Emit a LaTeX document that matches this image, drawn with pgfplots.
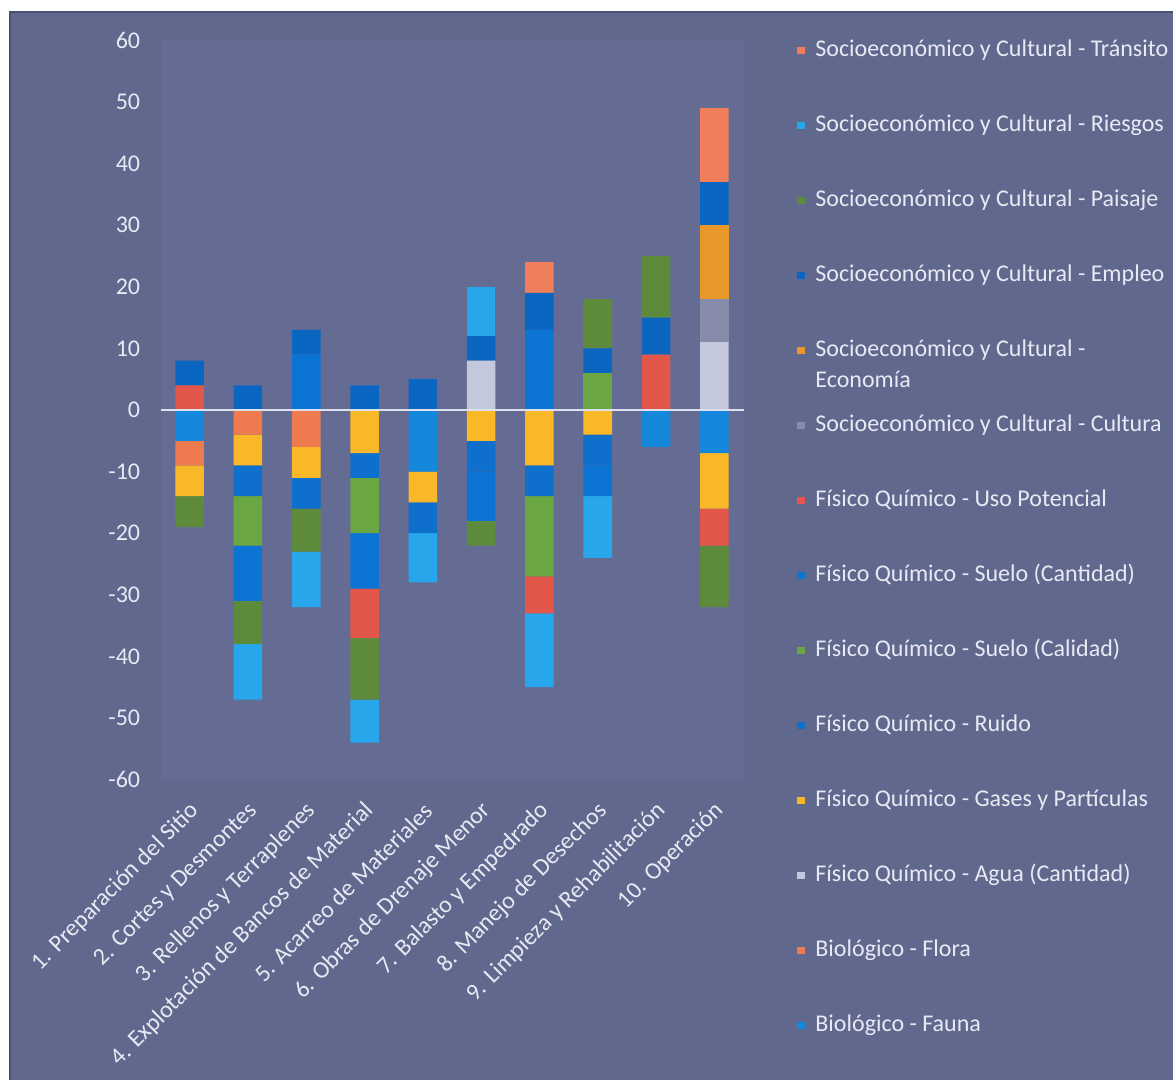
\documentclass[border=0pt]{standalone}
\usepackage{fontspec}
\setmainfont{Carlito}
\usepackage{pgfplots}
\usepackage{pgfplotstable}
\pgfplotsset{compat=1.18}

\definecolor{chartbg}{HTML}{61688E}
\definecolor{plotbg}{HTML}{656C93}
\definecolor{chartborder}{HTML}{4A5170}
\definecolor{labelcol}{HTML}{E8EAF3}
\definecolor{zeroline}{HTML}{DDE0EE}
\definecolor{cFa}{HTML}{1688DC}
\definecolor{cFl}{HTML}{EE7A50}
\definecolor{cAg}{HTML}{C4C8DC}
\definecolor{cGa}{HTML}{F8B828}
\definecolor{cRu}{HTML}{0E6FCC}
\definecolor{cSCal}{HTML}{6AA642}
\definecolor{cSCan}{HTML}{0C74D4}
\definecolor{cUso}{HTML}{E2574A}
\definecolor{cCu}{HTML}{868CAA}
\definecolor{cEc}{HTML}{E8982A}
\definecolor{cEm}{HTML}{0A66C0}
\definecolor{cPa}{HTML}{5E8A3C}
\definecolor{cRi}{HTML}{28A6EC}
\definecolor{cTr}{HTML}{F07E5A}

% negative parts (stacked downward from zero)
\pgfplotstableread{
x  Fa  Fl  Ag  Ga  Ru  SCal SCan Uso Cu  Ec  Em  Pa  Ri  Tr
1  -5  -4  0   -5  0   0    0    0   0   0   0   -5  0   0
2  0   -4  0   -5  -5  -8   -9   0   0   0   0   -7  -9  0
3  0   -6  0   -5  -5  0    0    0   0   0   0   -7  -9  0
4  0   0   0   -7  -4  -9   -9   -8  0   0   0   -10 -7  0
5  -10 0   0   -5  -5  0    0    0   0   0   0   0   -8  0
6  0   0   0   -5  -5  0    -8   0   0   0   0   -4  0   0
7  0   0   0   -9  -5  -13  0    -6  0   0   0   0   -12 0
8  0   0   0   -4  -5  0    -5   0   0   0   0   0   -10 0
9  -6  0   0   0   0   0    0    0   0   0   0   0   0   0
10 -7  0   0   -9  0   0    0    -6  0   0   0   -10 0   0
}\negdata

% positive parts (stacked upward from zero)
\pgfplotstableread{
x  Fa  Fl  Ag  Ga  Ru  SCal SCan Uso Cu  Ec  Em  Pa  Ri  Tr
1  0   0   0   0   0   0    0    4   0   0   4   0   0   0
2  0   0   0   0   0   0    0    0   0   0   4   0   0   0
3  0   0   0   0   0   0    9    0   0   0   4   0   0   0
4  0   0   0   0   0   0    0    0   0   0   4   0   0   0
5  0   0   0   0   0   0    0    0   0   0   5   0   0   0
6  0   0   8   0   0   0    0    0   0   0   4   0   8   0
7  0   0   0   0   0   0    13   0   0   0   6   0   0   5
8  0   0   0   0   0   6    0    0   0   0   4   8   0   0
9  0   0   0   0   0   0    0    9   0   0   6   10  0   0
10 0   0   11  0   0   0    0    0   7   12  7   0   0   12
}\posdata

\newcommand{\chartfont}{\fontsize{12bp}{15.5bp}\selectfont}

\pgfplotsset{
  common/.style={
    at={(80.25bp,150.2bp)}, anchor=south west,
    scale only axis, width=291.5bp, height=369.6bp,
    xmin=0.5, xmax=10.5, ymin=-60, ymax=60,
    ybar stacked, bar width=0.49,
    axis line style={draw=none},
    major tick length=0pt,
  },
}

\begin{document}
\begin{tikzpicture}
\fill[white] (0,0) rectangle (586.5bp,540bp);
\fill[chartbg] (5bp,0) rectangle (586.5bp,534bp);
\draw[chartborder, line width=0.8bp] (5bp,0) -- (5bp,534bp) -- (586.5bp,534bp);

\begin{axis}[common,
  axis background/.style={fill=plotbg},
  xtick={1,...,10},
  xticklabels={1. Preparación del Sitio, 2. Cortes y Desmontes, 3. Rellenos y Terraplenes, 4. Explotación de Bancos de Material, 5. Acarreo de Materiales, 6. Obras de Drenaje Menor, 7. Balasto y Empedrado, 8. Manejo de Desechos, 9. Limpieza y Rehabilitación, 10. Operación},
  xticklabel style={font=\chartfont, text=labelcol, inner sep=0pt, xshift=3bp, yshift=-13.7bp, rotate=45, anchor=east},
  ytick={-60,-50,...,60},
  yticklabels={-60,-50,-40,-30,-20,-10,0,10,20,30,40,50,60},
  yticklabel style={font=\chartfont, text=labelcol, inner sep=0pt, anchor=east, xshift=-10bp},
  legend image code/.code={\fill[#1] (0bp,-1.8bp) rectangle (3.6bp,1.8bp);},
  reverse legend,
  legend cell align=left,
  legend style={at={(1.0918,1.0033)}, anchor=north west, draw=none, fill=none,
    inner sep=0pt, row sep=25.5bp, font=\chartfont, text=labelcol,
    nodes={inner sep=0pt, text height=9bp, text depth=3bp},
    /tikz/every odd column/.style={column sep=5.4bp}},
]
\addplot[fill=cFa, draw=none] table[x=x, y=Fa]{\negdata}; \addlegendentry{Biológico - Fauna}
\addplot[fill=cFl, draw=none] table[x=x, y=Fl]{\negdata}; \addlegendentry{Biológico - Flora}
\addplot[fill=cAg, draw=none] table[x=x, y=Ag]{\negdata}; \addlegendentry{Físico Químico - Agua (Cantidad)}
\addplot[fill=cGa, draw=none] table[x=x, y=Ga]{\negdata}; \addlegendentry{Físico Químico - Gases y Partículas}
\addplot[fill=cRu, draw=none] table[x=x, y=Ru]{\negdata}; \addlegendentry{Físico Químico - Ruido}
\addplot[fill=cSCal, draw=none] table[x=x, y=SCal]{\negdata}; \addlegendentry{Físico Químico - Suelo (Calidad)}
\addplot[fill=cSCan, draw=none] table[x=x, y=SCan]{\negdata}; \addlegendentry{Físico Químico - Suelo (Cantidad)}
\addplot[fill=cUso, draw=none] table[x=x, y=Uso]{\negdata}; \addlegendentry{Físico Químico - Uso Potencial}
\addplot[fill=cCu, draw=none] table[x=x, y=Cu]{\negdata}; \addlegendentry{Socioeconómico y Cultural - Cultura}
\addplot[fill=cEc, draw=none] table[x=x, y=Ec]{\negdata}; \addlegendentry{\begin{tabular}[t]{@{}l@{}}Socioeconómico y Cultural -\\Economía\end{tabular}}
\addplot[fill=cEm, draw=none] table[x=x, y=Em]{\negdata}; \addlegendentry{Socioeconómico y Cultural - Empleo}
\addplot[fill=cPa, draw=none] table[x=x, y=Pa]{\negdata}; \addlegendentry{Socioeconómico y Cultural - Paisaje}
\addplot[fill=cRi, draw=none] table[x=x, y=Ri]{\negdata}; \addlegendentry{Socioeconómico y Cultural - Riesgos}
\addplot[fill=cTr, draw=none] table[x=x, y=Tr]{\negdata}; \addlegendentry{Socioeconómico y Cultural - Tránsito}
\end{axis}

\begin{axis}[common,
  axis on top,
  xtick=\empty, ytick=\empty,
  extra y ticks={0}, extra y tick labels={},
  extra y tick style={ymajorgrids=true, major grid style={draw=zeroline, line width=1.1bp}},
]
\addplot[fill=cFa, draw=none] table[x=x, y=Fa]{\posdata};
\addplot[fill=cFl, draw=none] table[x=x, y=Fl]{\posdata};
\addplot[fill=cAg, draw=none] table[x=x, y=Ag]{\posdata};
\addplot[fill=cGa, draw=none] table[x=x, y=Ga]{\posdata};
\addplot[fill=cRu, draw=none] table[x=x, y=Ru]{\posdata};
\addplot[fill=cSCal, draw=none] table[x=x, y=SCal]{\posdata};
\addplot[fill=cSCan, draw=none] table[x=x, y=SCan]{\posdata};
\addplot[fill=cUso, draw=none] table[x=x, y=Uso]{\posdata};
\addplot[fill=cCu, draw=none] table[x=x, y=Cu]{\posdata};
\addplot[fill=cEc, draw=none] table[x=x, y=Ec]{\posdata};
\addplot[fill=cEm, draw=none] table[x=x, y=Em]{\posdata};
\addplot[fill=cPa, draw=none] table[x=x, y=Pa]{\posdata};
\addplot[fill=cRi, draw=none] table[x=x, y=Ri]{\posdata};
\addplot[fill=cTr, draw=none] table[x=x, y=Tr]{\posdata};
\end{axis}

\pgfresetboundingbox
\path[use as bounding box] (0,0) rectangle (586.5bp,540bp);
\end{tikzpicture}
\end{document}
